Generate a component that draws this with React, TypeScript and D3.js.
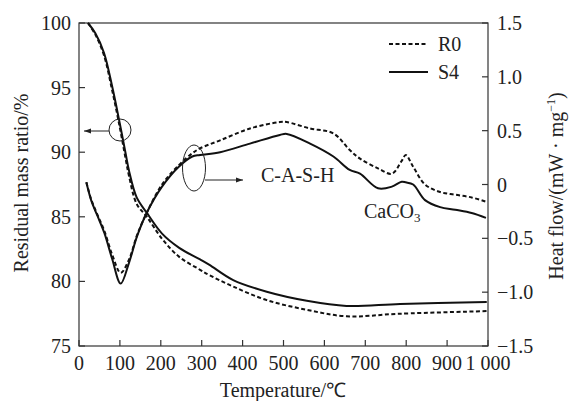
import React from "react";
import * as d3 from "d3";

const tgTemps = [22, 40, 61, 81, 98, 114, 122, 141, 166, 203, 245, 296, 318, 377, 459, 557, 654, 785, 997];
const tgS4 = [100, 99.2, 97.7, 95.1, 92.5, 89.9, 88.6, 86.5, 85.3, 83.7, 82.6, 81.7, 81.3, 80.1, 79.2, 78.5, 78.1, 78.25, 78.4];
const tgR0 = [100, 99.1, 97.5, 94.8, 92.2, 89.5, 88.2, 86.0, 85.0, 83.3, 81.9, 80.9, 80.5, 79.6, 78.55, 77.8, 77.3, 77.5, 77.7];

const dscTemps = [18, 30, 45, 62, 81, 102, 122, 142, 166, 203, 244, 277, 296, 345, 418, 491, 508, 565, 622, 662, 687, 731, 765, 789, 799, 817, 846, 883, 920, 960, 995];
const dscS4 = [0.02, -0.15, -0.29, -0.45, -0.69, -0.92, -0.73, -0.48, -0.26, -0.02, 0.165, 0.26, 0.274, 0.30, 0.38, 0.46, 0.47, 0.38, 0.26, 0.135, 0.10, -0.035, -0.02, 0.026, 0.02, 0.0, -0.145, -0.21, -0.235, -0.265, -0.31];
const dscR0 = [0.02, -0.14, -0.28, -0.43, -0.65, -0.82, -0.70, -0.47, -0.26, 0.0, 0.18, 0.29, 0.336, 0.41, 0.52, 0.58, 0.58, 0.52, 0.475, 0.32, 0.24, 0.15, 0.10, 0.22, 0.274, 0.165, 0.0, -0.07, -0.095, -0.12, -0.16];

const xTicks = [0, 100, 200, 300, 400, 500, 600, 700, 800, 900, 1000];
const xTickLabels = ["0", "100", "200", "300", "400", "500", "600", "700", "800", "900", "1 000"];
const leftTicks = [75, 80, 85, 90, 95, 100];
const rightTicks = [-1.5, -1.0, -0.5, 0, 0.5, 1.0, 1.5];
const rightTickLabels = ["\u22121.5", "\u22121.0", "\u22120.5", "0", "0.5", "1.0", "1.5"];

const W = 569, H = 401;
const M = { left: 79, right: 488, top: 23, bottom: 346 };
const FONT = "'Liberation Serif', 'Times New Roman', serif";
const AX = "#333";
const FS = 20;

export default function App() {
  const x = d3.scaleLinear().domain([0, 1000]).range([M.left, M.right]);
  const yL = d3.scaleLinear().domain([75, 100]).range([M.bottom, M.top]);
  const yR = d3.scaleLinear().domain([-1.5, 1.5]).range([M.bottom, M.top]);

  const mk = (temps: number[], vals: number[], ys: d3.ScaleLinear<number, number>) =>
    d3.line<number>().x((_, i) => x(temps[i])).y((v) => ys(v)).curve(d3.curveCatmullRom.alpha(0.5))(vals) || "";

  const series = [
    { d: mk(tgTemps, tgS4, yL), dash: undefined },
    { d: mk(tgTemps, tgR0, yL), dash: "4 2.5" },
    { d: mk(dscTemps, dscS4, yR), dash: undefined },
    { d: mk(dscTemps, dscR0, yR), dash: "4 2.5" },
  ];

  return (
    <svg width={W} height={H} style={{ position: "absolute", left: 0, top: 0, background: "#fff" }} fontFamily={FONT}>
      <defs>
        <marker id="arr" viewBox="0 0 10 10" refX="10" refY="5" markerWidth="7" markerHeight="7" orient="auto">
          <path d="M0,1.5 L10,5 L0,8.5 Z" fill="#222" />
        </marker>
      </defs>
      <rect x={M.left} y={M.top} width={M.right - M.left} height={M.bottom - M.top} fill="none" stroke={AX} strokeWidth={1.2} />
      {xTicks.map((t, i) => (
        <g key={"x" + t}>
          <line x1={x(t)} x2={x(t)} y1={M.bottom} y2={M.bottom - 6} stroke={AX} strokeWidth={1.2} />
          <text x={x(t)} y={370} fontSize={FS} textAnchor="middle" fill="#222">{xTickLabels[i]}</text>
        </g>
      ))}
      {leftTicks.map((t) => (
        <g key={"l" + t}>
          <line x1={M.left} x2={M.left + 6} y1={yL(t)} y2={yL(t)} stroke={AX} strokeWidth={1.2} />
          <text x={71} y={yL(t)} dy="0.35em" fontSize={FS} textAnchor="end" fill="#222">{t}</text>
        </g>
      ))}
      {rightTicks.map((t, i) => (
        <g key={"r" + t}>
          <line x1={M.right} x2={M.right - 6} y1={yR(t)} y2={yR(t)} stroke={AX} strokeWidth={1.2} />
          <text x={497} y={yR(t)} dy="0.35em" fontSize={FS} textAnchor="start" fill="#222">{rightTickLabels[i]}</text>
        </g>
      ))}
      {series.map((s, i) => (
        <path key={i} d={s.d} fill="none" stroke="#111" strokeWidth={2} strokeDasharray={s.dash} />
      ))}
      <text transform="translate(28,183) rotate(-90)" fontSize={FS} textAnchor="middle" fill="#222">Residual mass ratio/%</text>
      <text transform="translate(563,186) rotate(-90)" fontSize={FS} textAnchor="middle" fill="#222">
        Heat flow/(mW · mg<tspan fontSize={12} dy={-8}>−1</tspan><tspan dy={8}>)</tspan>
      </text>
      <text x={283} y={397} fontSize={FS} textAnchor="middle" fill="#222">Temperature/℃</text>
      {/* legend */}
      <line x1={389} x2={428} y1={44} y2={44} stroke="#111" strokeWidth={2} strokeDasharray="4 2.5" />
      <text x={438} y={51} fontSize={FS} fill="#222">R0</text>
      <line x1={389} x2={428} y1={72} y2={72} stroke="#111" strokeWidth={2} />
      <text x={438} y={79} fontSize={FS} fill="#222">S4</text>
      {/* annotations */}
      <circle cx={120} cy={130} r={11} fill="none" stroke="#222" strokeWidth={1} />
      <line x1={109} x2={84} y1={131} y2={131} stroke="#222" strokeWidth={1} markerEnd="url(#arr)" />
      <ellipse cx={194} cy={168} rx={11.5} ry={23} fill="none" stroke="#222" strokeWidth={1} />
      <line x1={205} x2={243} y1={180} y2={180} stroke="#222" strokeWidth={1} markerEnd="url(#arr)" />
      <text x={261} y={182} fontSize={FS} fill="#222">C-A-S-H</text>
      <text x={364} y={218} fontSize={FS} fill="#222">CaCO<tspan fontSize={13} dy={4}>3</tspan></text>
    </svg>
  );
}
